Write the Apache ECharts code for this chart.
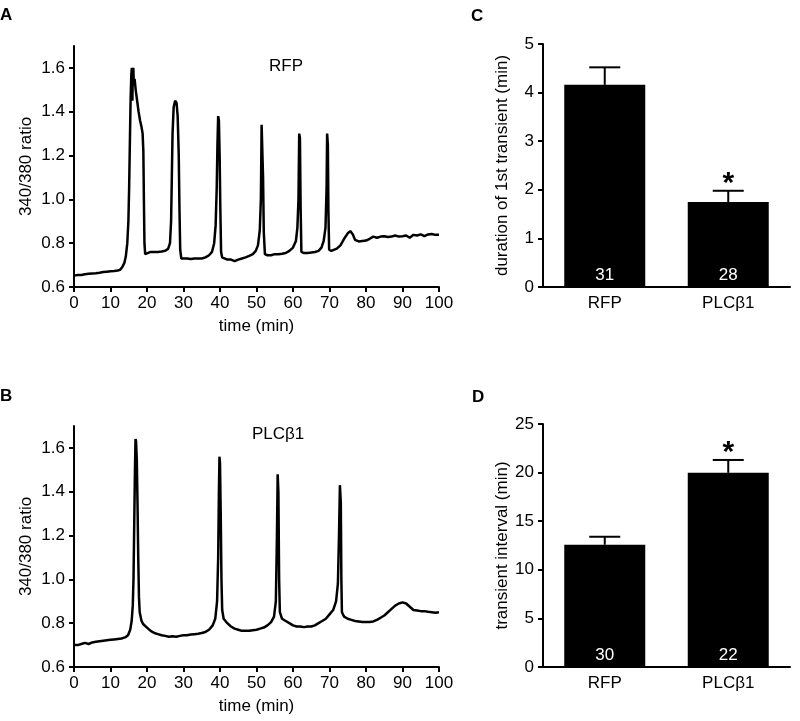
<!DOCTYPE html>
<html>
<head>
<meta charset="utf-8">
<script src="https://cdn.jsdelivr.net/npm/echarts@6/dist/echarts.min.js"></script>
<style>html,body{margin:0;padding:0;background:#fff}#c{width:800px;height:721px}</style>
</head>
<body>
<div id="c"></div>
<script>
// ---- Panel A (RFP) trace ----
const timeA = [0,1,2,3,4,5,6,7,8,9,10,11,12,12.6,13.2,13.8,14.2,14.6,14.9,15.1,15.3,15.5,15.7,15.85,16.0,16.1,16.25,16.4,16.6,16.9,17.3,17.7,18.1,18.5,18.8,19.0,19.15,19.3,19.5,20,21,22,23,24,25,25.8,26.3,26.6,26.8,27.0,27.3,27.7,28.1,28.4,28.7,28.9,29.1,29.4,30,31,32,33,34,35,36,37,37.8,38.4,38.8,39.1,39.3,39.5,39.7,39.9,40.1,40.3,40.6,41,42,43,44,45,46,47,48,49,49.8,50.4,50.9,51.2,51.4,51.6,51.8,52.0,52.3,53,54,55,56,57,58,59,60,60.8,61.2,61.5,61.7,61.9,62.1,62.3,63,64,65,66,67,67.8,68.4,68.9,69.2,69.35,69.55,69.7,69.9,70.5,71,72,73,74,75,75.7,76.4,77,78,79,80,81,82,83,84,85,86,87,88,89,90,91,92,93,94,95,96,97,98,99,100];
const ratioA = [0.652,0.655,0.655,0.658,0.66,0.662,0.663,0.665,0.668,0.67,0.672,0.673,0.675,0.678,0.69,0.71,0.74,0.80,0.90,1.05,1.25,1.45,1.57,1.60,1.45,1.58,1.60,1.52,1.55,1.50,1.45,1.40,1.36,1.33,1.30,1.22,1.0,0.80,0.75,0.755,0.76,0.76,0.76,0.762,0.765,0.775,0.80,0.90,1.1,1.3,1.42,1.45,1.44,1.38,1.2,0.95,0.77,0.73,0.73,0.73,0.728,0.73,0.73,0.73,0.735,0.745,0.76,0.80,0.88,1.05,1.25,1.38,1.36,1.2,0.95,0.76,0.735,0.73,0.725,0.725,0.718,0.725,0.73,0.735,0.742,0.75,0.765,0.79,0.86,1.0,1.34,1.34,1.1,0.85,0.75,0.745,0.745,0.75,0.75,0.752,0.755,0.765,0.78,0.81,0.87,1.0,1.30,1.28,0.95,0.76,0.755,0.755,0.757,0.76,0.765,0.78,0.81,0.87,1.05,1.30,1.25,0.95,0.77,0.765,0.77,0.775,0.79,0.82,0.845,0.855,0.84,0.815,0.808,0.81,0.812,0.82,0.83,0.825,0.83,0.832,0.828,0.83,0.835,0.83,0.832,0.835,0.825,0.838,0.835,0.84,0.832,0.84,0.842,0.838,0.838];

// ---- Panel B (PLCβ1) trace ----
const timeB = [0,1,2,3,4,5,6,7,8,9,10,11,12,13,14,14.8,15.4,15.8,16.1,16.3,16.5,16.7,16.85,17.0,17.2,17.4,17.6,17.8,18.0,18.5,19,20,21,22,23,24,25,26,27,28,29,30,31,32,33,34,35,36,37,38,38.7,39.2,39.5,39.7,39.85,40.0,40.2,40.4,40.6,41,42,43,44,45,46,47,48,49,50,51,52,53,54,54.8,55.3,55.6,55.8,56.0,56.2,56.4,57,58,59,60,61,62,63,64,65,66,67,68,69,70,71,71.8,72.3,72.6,72.85,73.1,73.25,73.4,74,75,76,77,78,79,80,81,82,83,84,85,86,87,88,89,90,91,92,93,94,95,96,97,98,99,100];
const ratioB = [0.70,0.70,0.705,0.71,0.705,0.712,0.715,0.718,0.72,0.722,0.724,0.726,0.728,0.73,0.735,0.745,0.77,0.81,0.88,1.0,1.25,1.50,1.64,1.63,1.55,1.35,1.10,0.92,0.85,0.81,0.795,0.78,0.765,0.755,0.75,0.745,0.742,0.738,0.74,0.738,0.742,0.745,0.745,0.748,0.75,0.752,0.755,0.76,0.77,0.79,0.82,0.9,1.1,1.40,1.56,1.53,1.30,1.0,0.86,0.82,0.80,0.785,0.775,0.77,0.765,0.765,0.765,0.768,0.77,0.775,0.78,0.79,0.805,0.83,0.9,1.2,1.48,1.40,1.0,0.85,0.82,0.81,0.80,0.79,0.785,0.785,0.782,0.785,0.785,0.79,0.80,0.81,0.82,0.84,0.86,0.90,0.98,1.2,1.43,1.35,1.0,0.85,0.83,0.82,0.815,0.81,0.808,0.805,0.805,0.805,0.808,0.815,0.825,0.835,0.85,0.865,0.88,0.89,0.895,0.89,0.875,0.86,0.858,0.855,0.855,0.852,0.85,0.848,0.85];

// ---- Axis ranges / ticks ----
const timeRange = [0, 100, 10];          // min, max, step
const ratioTickRange = [0.6, 1.6, 0.2];  // labelled ticks
const ratioAxisMax = 1.7;                // axis line extends to here

// ---- Panel C: duration of 1st transient ----
const groups = ['RFP','PLCβ1'];
const durMean = [4.16,1.75];
const durErrTop = [4.52,1.98];
const durN = [31,28];
const durSig = ['','*'];

// ---- Panel D: transient interval ----
const intMean = [12.58,19.98];
const intErrTop = [13.4,21.3];
const intN = [30,22];
const intSig = ['','*'];

const FONT = '"Liberation Sans", Arial, sans-serif';
const pairs = (t, v) => t.map((x, i) => [x, v[i]]);
const BLACK = '#000';

// layout
const traceLeft = 74, traceW = 365, traceH = 241;
const traceTops = [46, 426];
const tickFrac = (ratioTickRange[1] - ratioTickRange[0]) / (ratioAxisMax - ratioTickRange[0]);
const tickH = traceH * tickFrac;

function traceX(gi) {
  return {
    type: 'value', gridIndex: gi, min: timeRange[0], max: timeRange[1], interval: timeRange[2],
    name: 'time (min)', nameLocation: 'middle', nameGap: 31,
    nameTextStyle: { fontFamily: FONT, fontSize: 17, color: BLACK },
    axisLine: { lineStyle: { color: BLACK, width: 2 } },
    axisTick: { show: true, length: 5, lineStyle: { color: BLACK, width: 2 } },
    axisLabel: { fontFamily: FONT, fontSize: 17, color: BLACK, margin: 8 },
    splitLine: { show: false }
  };
}
function traceY(gi) {
  return {
    type: 'value', gridIndex: gi, min: ratioTickRange[0], max: ratioAxisMax,
    name: '340/380 ratio', nameLocation: 'middle', nameGap: 39, nameRotate: 90,
    nameTextStyle: { fontFamily: FONT, fontSize: 17, color: BLACK },
    axisLine: { show: true, lineStyle: { color: BLACK, width: 2 } },
    axisTick: { show: false }, axisLabel: { show: false },
    splitLine: { show: false }
  };
}
// overlay axes carrying the ticks 0.6..1.6 only
function tickX(gi) {
  return { type: 'value', gridIndex: gi, min: timeRange[0], max: timeRange[1], show: false };
}
function tickY(gi) {
  return {
    type: 'value', gridIndex: gi, min: ratioTickRange[0], max: ratioTickRange[1], interval: ratioTickRange[2],
    axisLine: { show: false },
    axisTick: { show: true, length: 5, lineStyle: { color: BLACK, width: 2 } },
    axisLabel: { fontFamily: FONT, fontSize: 17, color: BLACK, margin: 9, formatter: v => Number(v).toFixed(1) },
    splitLine: { show: false }
  };
}
function barX(gi) {
  return {
    type: 'category', gridIndex: gi, data: groups,
    axisLine: { lineStyle: { color: BLACK, width: 2 } },
    axisTick: { show: false },
    axisLabel: { fontFamily: FONT, fontSize: 17, color: BLACK, margin: 8 }
  };
}
function barY(gi, max, interval, name) {
  return {
    type: 'value', gridIndex: gi, min: 0, max: max, interval: interval,
    name: name, nameLocation: 'middle', nameGap: 32, nameRotate: 90,
    nameTextStyle: { fontFamily: FONT, fontSize: 17, color: BLACK },
    axisLine: { show: true, lineStyle: { color: BLACK, width: 2 } },
    axisTick: { show: true, length: 5, lineStyle: { color: BLACK, width: 2 } },
    axisLabel: { fontFamily: FONT, fontSize: 17, color: BLACK, margin: 9 },
    splitLine: { show: false }
  };
}
function errSeries(ai, tops, means, sig) {
  return {
    type: 'custom', xAxisIndex: ai, yAxisIndex: ai, z: 5,
    data: groups.map((g, i) => [i, means[i], tops[i]]),
    renderItem: function (params, api) {
      const p0 = api.coord([api.value(0), api.value(1)]);
      const p1 = api.coord([api.value(0), api.value(2)]);
      const half = 15.5;
      const children = [
        { type: 'line', shape: { x1: p0[0], y1: p0[1], x2: p1[0], y2: p1[1] }, style: { stroke: BLACK, lineWidth: 2 } },
        { type: 'line', shape: { x1: p1[0] - half, y1: p1[1], x2: p1[0] + half, y2: p1[1] }, style: { stroke: BLACK, lineWidth: 2 } }
      ];
      const s = sig[params.dataIndex];
      if (s) {
        children.push({ type: 'text', x: p1[0], y: p1[1] - 7,
          style: { text: s, fill: BLACK, font: 'bold 30px ' + FONT, align: 'center', verticalAlign: 'middle' } });
      }
      return { type: 'group', children: children };
    }
  };
}
function barSeries(ai, means, ns) {
  return {
    type: 'bar', xAxisIndex: ai, yAxisIndex: ai, data: means, barWidth: 81,
    itemStyle: { color: BLACK },
    label: { show: true, position: 'insideBottom', distance: 3, color: '#fff',
      fontFamily: FONT, fontSize: 17, formatter: p => String(ns[p.dataIndex]) }
  };
}

const chart = echarts.init(document.getElementById('c'), null, { renderer: 'canvas' });
chart.setOption({
  animation: false,
  backgroundColor: '#fff',
  grid: [
    { left: traceLeft, top: traceTops[0], width: traceW, height: traceH },
    { left: traceLeft, top: traceTops[1], width: traceW, height: traceH },
    { left: 543, top: 44, width: 247, height: 243 },
    { left: 543, top: 424, width: 247, height: 243 },
    { left: traceLeft, top: traceTops[0] + traceH - tickH, width: traceW, height: tickH },
    { left: traceLeft, top: traceTops[1] + traceH - tickH, width: traceW, height: tickH }
  ],
  xAxis: [traceX(0), traceX(1), barX(2), barX(3), tickX(4), tickX(5)],
  yAxis: [traceY(0), traceY(1),
    barY(2, 5, 1, 'duration of 1st transient (min)'),
    barY(3, 25, 5, 'transient interval (min)'),
    tickY(4), tickY(5)],
  series: [
    { type: 'line', xAxisIndex: 0, yAxisIndex: 0, data: pairs(timeA, ratioA), showSymbol: false,
      lineStyle: { color: BLACK, width: 2.5 }, silent: true },
    { type: 'line', xAxisIndex: 1, yAxisIndex: 1, data: pairs(timeB, ratioB), showSymbol: false,
      lineStyle: { color: BLACK, width: 2.5 }, silent: true },
    barSeries(2, durMean, durN),
    errSeries(2, durErrTop, durMean, durSig),
    barSeries(3, intMean, intN),
    errSeries(3, intErrTop, intMean, intSig)
  ],
  graphic: [
    { type: 'text', left: 0, top: 7, style: { text: 'A', font: 'bold 17px ' + FONT, fill: BLACK } },
    { type: 'text', left: 0, top: 388, style: { text: 'B', font: 'bold 17px ' + FONT, fill: BLACK } },
    { type: 'text', left: 471, top: 8, style: { text: 'C', font: 'bold 17px ' + FONT, fill: BLACK } },
    { type: 'text', left: 472, top: 389, style: { text: 'D', font: 'bold 17px ' + FONT, fill: BLACK } },
    { type: 'text', left: 269, top: 58, style: { text: 'RFP', font: '17px ' + FONT, fill: BLACK } },
    { type: 'text', left: 252, top: 426, style: { text: 'PLCβ1', font: '17px ' + FONT, fill: BLACK } }
  ]
});
</script>
</body>
</html>
